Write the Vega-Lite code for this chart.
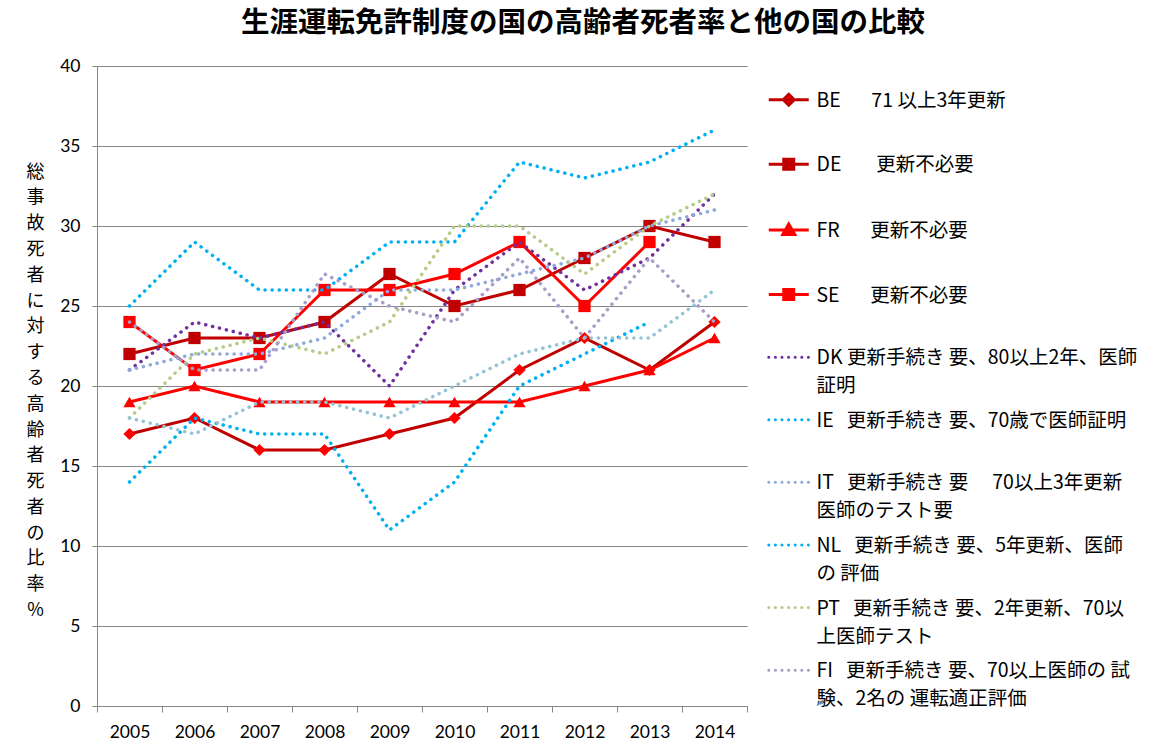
{
  "$schema": "https://vega.github.io/schema/vega-lite/v6.json",
  "autosize": {"type": "none"},
  "padding": {"left": 97, "top": 66, "right": 418, "bottom": 49},
  "width": 650,
  "height": 640,
  "background": "white",
  "config": {"view": {"stroke": null}, "font": "Noto Sans CJK JP"},
  "title": {"text": "生涯運転免許制度の国の高齢者死者率と他の国の比較", "fontSize": 28.5, "font": "Noto Sans CJK JP", "fontWeight": "bold", "anchor": "middle", "frame": "group", "dx": 161, "offset": 20, "color": "#000000"},
  "data": {"values": [
    {"year": "2005", "c": "BE", "v": 17}, {"year": "2006", "c": "BE", "v": 18}, {"year": "2007", "c": "BE", "v": 16}, {"year": "2008", "c": "BE", "v": 16}, {"year": "2009", "c": "BE", "v": 17}, {"year": "2010", "c": "BE", "v": 18}, {"year": "2011", "c": "BE", "v": 21}, {"year": "2012", "c": "BE", "v": 23}, {"year": "2013", "c": "BE", "v": 21}, {"year": "2014", "c": "BE", "v": 24},
    {"year": "2005", "c": "DE", "v": 22}, {"year": "2006", "c": "DE", "v": 23}, {"year": "2007", "c": "DE", "v": 23}, {"year": "2008", "c": "DE", "v": 24}, {"year": "2009", "c": "DE", "v": 27}, {"year": "2010", "c": "DE", "v": 25}, {"year": "2011", "c": "DE", "v": 26}, {"year": "2012", "c": "DE", "v": 28}, {"year": "2013", "c": "DE", "v": 30}, {"year": "2014", "c": "DE", "v": 29},
    {"year": "2005", "c": "FR", "v": 19}, {"year": "2006", "c": "FR", "v": 20}, {"year": "2007", "c": "FR", "v": 19}, {"year": "2008", "c": "FR", "v": 19}, {"year": "2009", "c": "FR", "v": 19}, {"year": "2010", "c": "FR", "v": 19}, {"year": "2011", "c": "FR", "v": 19}, {"year": "2012", "c": "FR", "v": 20}, {"year": "2013", "c": "FR", "v": 21}, {"year": "2014", "c": "FR", "v": 23},
    {"year": "2005", "c": "SE", "v": 24}, {"year": "2006", "c": "SE", "v": 21}, {"year": "2007", "c": "SE", "v": 22}, {"year": "2008", "c": "SE", "v": 26}, {"year": "2009", "c": "SE", "v": 26}, {"year": "2010", "c": "SE", "v": 27}, {"year": "2011", "c": "SE", "v": 29}, {"year": "2012", "c": "SE", "v": 25}, {"year": "2013", "c": "SE", "v": 29},
    {"year": "2005", "c": "DK", "v": 21}, {"year": "2006", "c": "DK", "v": 24}, {"year": "2007", "c": "DK", "v": 23}, {"year": "2008", "c": "DK", "v": 24}, {"year": "2009", "c": "DK", "v": 20}, {"year": "2010", "c": "DK", "v": 26}, {"year": "2011", "c": "DK", "v": 29}, {"year": "2012", "c": "DK", "v": 26}, {"year": "2013", "c": "DK", "v": 28}, {"year": "2014", "c": "DK", "v": 32},
    {"year": "2005", "c": "IE", "v": 14}, {"year": "2006", "c": "IE", "v": 18}, {"year": "2007", "c": "IE", "v": 17}, {"year": "2008", "c": "IE", "v": 17}, {"year": "2009", "c": "IE", "v": 11}, {"year": "2010", "c": "IE", "v": 14}, {"year": "2011", "c": "IE", "v": 20}, {"year": "2012", "c": "IE", "v": 22}, {"year": "2013", "c": "IE", "v": 24},
    {"year": "2005", "c": "IT", "v": 21}, {"year": "2006", "c": "IT", "v": 22}, {"year": "2007", "c": "IT", "v": 22}, {"year": "2008", "c": "IT", "v": 23}, {"year": "2009", "c": "IT", "v": 26}, {"year": "2010", "c": "IT", "v": 26}, {"year": "2011", "c": "IT", "v": 27}, {"year": "2012", "c": "IT", "v": 28}, {"year": "2013", "c": "IT", "v": 30}, {"year": "2014", "c": "IT", "v": 31},
    {"year": "2005", "c": "NL", "v": 25}, {"year": "2006", "c": "NL", "v": 29}, {"year": "2007", "c": "NL", "v": 26}, {"year": "2008", "c": "NL", "v": 26}, {"year": "2009", "c": "NL", "v": 29}, {"year": "2010", "c": "NL", "v": 29}, {"year": "2011", "c": "NL", "v": 34}, {"year": "2012", "c": "NL", "v": 33}, {"year": "2013", "c": "NL", "v": 34}, {"year": "2014", "c": "NL", "v": 36},
    {"year": "2005", "c": "PT", "v": 18}, {"year": "2006", "c": "PT", "v": 22}, {"year": "2007", "c": "PT", "v": 23}, {"year": "2008", "c": "PT", "v": 22}, {"year": "2009", "c": "PT", "v": 24}, {"year": "2010", "c": "PT", "v": 30}, {"year": "2011", "c": "PT", "v": 30}, {"year": "2012", "c": "PT", "v": 27}, {"year": "2013", "c": "PT", "v": 30}, {"year": "2014", "c": "PT", "v": 32},
    {"year": "2005", "c": "FI", "v": 24}, {"year": "2006", "c": "FI", "v": 21}, {"year": "2007", "c": "FI", "v": 21}, {"year": "2008", "c": "FI", "v": 27}, {"year": "2009", "c": "FI", "v": 25}, {"year": "2010", "c": "FI", "v": 24}, {"year": "2011", "c": "FI", "v": 28}, {"year": "2012", "c": "FI", "v": 23}, {"year": "2013", "c": "FI", "v": 28}, {"year": "2014", "c": "FI", "v": 24},
    {"year": "2005", "c": "XX", "v": 18}, {"year": "2006", "c": "XX", "v": 17}, {"year": "2007", "c": "XX", "v": 19}, {"year": "2008", "c": "XX", "v": 19}, {"year": "2009", "c": "XX", "v": 18}, {"year": "2010", "c": "XX", "v": 20}, {"year": "2011", "c": "XX", "v": 22}, {"year": "2012", "c": "XX", "v": 23}, {"year": "2013", "c": "XX", "v": 23}, {"year": "2014", "c": "XX", "v": 26}
  ]},
  "encoding": {
    "x": {"field": "year", "type": "ordinal", "scale": {"type": "band", "paddingInner": 0, "paddingOuter": 0},
      "axis": {"title": null, "labelAngle": 0, "labelFontSize": 17.5, "labelFont": "Lato", "labelColor": "#000000", "labelPadding": 11, "domainColor": "#868686", "tickColor": "#868686", "tickSize": 6, "tickBand": "extent", "grid": false}},
    "y": {"field": "v", "type": "quantitative", "scale": {"domain": [0, 40], "nice": false, "zero": true},
      "axis": {"values": [0, 5, 10, 15, 20, 25, 30, 35, 40], "labelFontSize": 17.5, "labelFont": "Lato", "labelColor": "#000000", "labelPadding": 12, "domainColor": "#868686", "tickColor": "#868686", "tickSize": 5, "gridColor": "#868686", "gridWidth": 1,
        "title": ["総", "事", "故", "死", "者", "に", "対", "す", "る", "高", "齢", "者", "死", "者", "の", "比", "率", "%"],
        "titleAngle": 0, "titleFontSize": 18, "titleFont": "Noto Sans CJK JP", "titleFontWeight": "normal", "titleLineHeight": 25.8, "titleX": -62, "titleY": 106, "titleAlign": "center", "titleBaseline": "middle", "titleColor": "#000000"}}
  },
  "layer": [
    {
      "transform": [{"filter": {"field": "c", "oneOf": ["BE", "DE", "FR", "SE"]}}],
      "mark": {"type": "line", "strokeWidth": 3},
      "encoding": {
        "color": {"field": "c", "type": "nominal",
          "scale": {"domain": ["BE", "DE", "FR", "SE", "DK", "IE", "IT", "NL", "PT", "FI", "XX"],
            "range": ["#C00000", "#C00000", "#FF0000", "#FF0000", "#7030A0", "#00B0F0", "#8EA9DB", "#00B0F0", "#B5CB88", "#A89CC8", "#92C4D6"]},
          "legend": {
            "values": ["BE", "DE", "FR", "SE", "DK", "IE", "IT", "NL", "PT", "FI"],
            "orient": "none", "legendX": 682, "legendY": 24, "padding": 0, "title": null,
            "symbolSize": 100, "symbolStrokeWidth": 3, "labelFontSize": 19.5, "labelFont": "Noto Sans CJK JP", "labelColor": "#000000",
            "labelLimit": 400, "labelOffset": 18, "rowPadding": 13.6, "labelLineHeight": 28, "labelBaseline": "alphabetic",
            "labelExpr": "({'BE': ['BE\u00a0\u00a0\u00a0\u00a0\u00a0\u00a0\u00a071 以上3年更新', ' '], 'DE': ['DE\u00a0\u00a0\u00a0\u00a0\u00a0\u00a0\u00a0\u00a0更新不必要', ' '], 'FR': ['FR\u00a0\u00a0\u00a0\u00a0\u00a0\u00a0\u00a0更新不必要', ' '], 'SE': ['SE\u00a0\u00a0\u00a0\u00a0\u00a0\u00a0\u00a0更新不必要', ' '], 'DK': ['DK 更新手続き 要、80以上2年、医師', '証明'], 'IE': ['IE\u00a0\u00a0 更新手続き 要、70歳で医師証明', ' '], 'IT': ['IT\u00a0\u00a0 更新手続き 要\u3000 70以上3年更新', '医師のテスト要'], 'NL': ['NL\u00a0\u00a0 更新手続き 要、5年更新、医師', 'の 評価'], 'PT': ['PT\u00a0\u00a0 更新手続き 要、2年更新、70以', '上医師テスト'], 'FI': ['FI\u00a0\u00a0 更新手続き 要、70以上医師の 試', '験、2名の 運転適正評価']})[datum.label]",
            "encode": {
              "labels": {"update": {"dy": {"value": 7}, "lineHeight": {"value": 28}}},
              "symbols": {"update": {
                "shape": {"signal": "datum.value === 'BE' ? 'M-4,0H4M0,-1.1L1.1,0L0,1.1L-1.1,0Z' : (datum.value === 'DE' || datum.value === 'SE') ? 'M-4,0H4M-1,-1H1V1H-1Z' : datum.value === 'FR' ? 'M-4,0H4M0,-1.2L1.2,0.9L-1.2,0.9Z' : 'M-4,0H4'"},
                "strokeDash": {"signal": "indexof(['BE','DE','FR','SE'], datum.value) >= 0 ? [] : [0.1, 6.5]"},
                "strokeCap": {"signal": "indexof(['BE','DE','FR','SE'], datum.value) >= 0 ? 'butt' : 'round'"},
                "fill": {"signal": "(datum.value === 'BE' || datum.value === 'FR' || datum.value === 'SE') ? '#FF0000' : datum.value === 'DE' ? '#C00000' : 'transparent'"},
                "strokeWidth": {"value": 3},
                "opacity": {"value": 1}
              }}
            }
          }
        }
      }
    },
    {
      "transform": [{"filter": {"field": "c", "oneOf": ["BE", "DE", "FR", "SE"]}}],
      "mark": {"type": "point", "filled": true, "opacity": 1, "size": 150, "strokeWidth": 0},
      "encoding": {
        "shape": {"field": "c", "type": "nominal", "scale": {"domain": ["BE", "DE", "FR", "SE"], "range": ["diamond", "square", "triangle-up", "square"]}, "legend": null},
        "fill": {"field": "c", "type": "nominal", "scale": {"domain": ["BE", "DE", "FR", "SE"], "range": ["#FF0000", "#C00000", "#FF0000", "#FF0000"]}, "legend": null}
      }
    },
    {
      "transform": [{"filter": {"field": "c", "oneOf": ["DK", "IE", "IT", "NL", "PT", "FI", "XX"]}}],
      "mark": {"type": "line", "strokeWidth": 3.5, "strokeDash": [0.1, 7], "strokeCap": "round"},
      "encoding": {
        "color": {"field": "c", "type": "nominal"}
      }
    }
  ]
}
